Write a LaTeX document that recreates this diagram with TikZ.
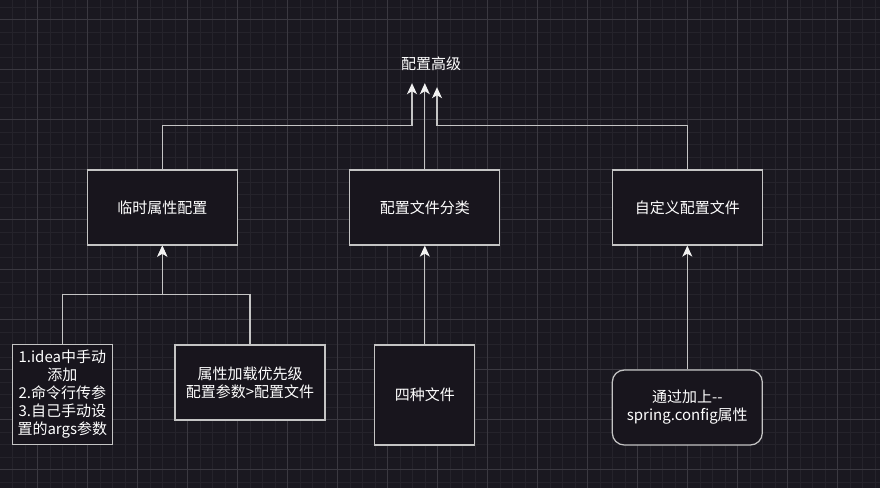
\documentclass[tikz,border=0pt]{standalone}
\usepackage{fontspec}
\setmainfont{Noto Sans CJK SC}
\usetikzlibrary{positioning,arrows.meta}

\definecolor{fondo}{HTML}{1A1820}
\definecolor{relleno}{HTML}{18151D}
\definecolor{menor}{HTML}{25232B}
\definecolor{mayor}{HTML}{3A3840}
\definecolor{borde}{HTML}{C4C4C4}
\definecolor{punta}{HTML}{F2F2F2}

\begin{document}
\begin{tikzpicture}[
x=1pt,
y=-1pt,
font=\fontsize{15}{18}\selectfont,
caja/.style={
    draw=borde,
    fill=relleno,
    text=white,
    line width=1.25pt,
    align=center,
    minimum width=150pt,
    minimum height=75pt,
    inner sep=3pt
},
cuadro/.style={
    caja,
    minimum width=100pt,
    minimum height=100pt
},
redonda/.style={
    caja,
    rounded corners=12pt
},
titulo/.style={
    text=white,
    minimum height=38pt,
    inner sep=0pt
},
flecha/.style={
    draw=borde,
    line width=1.25pt,
    -{Stealth[length=11pt,width=10pt,inset=3pt,color=punta,fill=punta]}
},
rejillamenor/.style={
    draw=menor,
    line width=0.6pt
},
rejillamayor/.style={
    draw=mayor,
    line width=0.8pt
}
]

% Fondo y rejilla
\fill[fondo] (0,0) rectangle (880,488);
\useasboundingbox (0,0) rectangle (880,488);

\foreach \gx in {0,...,70}
    \draw[rejillamenor] (12.3+12.5*\gx,0) -- (12.3+12.5*\gx,488);
\foreach \gy in {0,...,39}
    \draw[rejillamenor] (0,6.8+12.5*\gy) -- (880,6.8+12.5*\gy);
\foreach \gx in {0,...,16}
    \draw[rejillamayor] (37.3+50*\gx,0) -- (37.3+50*\gx,488);
\foreach \gy in {0,...,9}
    \draw[rejillamayor] (0,19.3+50*\gy) -- (880,19.3+50*\gy);

% Titulo
\node[titulo] (titulo) at (431,64) {配置高级};

% Fila superior
\node[caja] (temporal) at (162.3,207.5) {临时属性配置};

\node[caja, right=111.25pt of temporal] (clasificacion) {配置文件分类};

\node[caja, right=111.25pt of clasificacion] (personal) {自定义配置文件};

% Fila inferior
\node[cuadro] (idea) at (62.3,394.5) {
1.idea中手动\\
添加\\
2.命令行传参\\
3.自己手动设\\
置的args参数
};

\node[caja] (prioridad) at (250,382.5) {
属性加载优先级\\
配置参数>配置文件
};

\node[cuadro, below=98.75pt of clasificacion] (cuatro) {四种文件};

\node[redonda, below=123.75pt of personal] (spring) {
通过加上-{}-\\
spring.config属性
};

% Flechas hacia el titulo
\draw[flecha]
(temporal.north) -- ++(0,-44) -| ([xshift=-19pt]titulo.south);

\draw[flecha]
(clasificacion.north) -- (clasificacion.north |- titulo.south);

\draw[flecha]
(personal.north) -- ++(0,-44) -| ([xshift=6pt,yshift=-4pt]titulo.south);

% Flechas de la fila inferior
\draw[flecha]
(idea.north) -- ++(0,-49.5) -| (temporal.south);

\draw[flecha]
(prioridad.north) -- ++(0,-50) -| (temporal.south);

\draw[flecha]
(cuatro.north) -- (clasificacion.south);

\draw[flecha]
(spring.north) -- (personal.south);

\end{tikzpicture}
\end{document}
